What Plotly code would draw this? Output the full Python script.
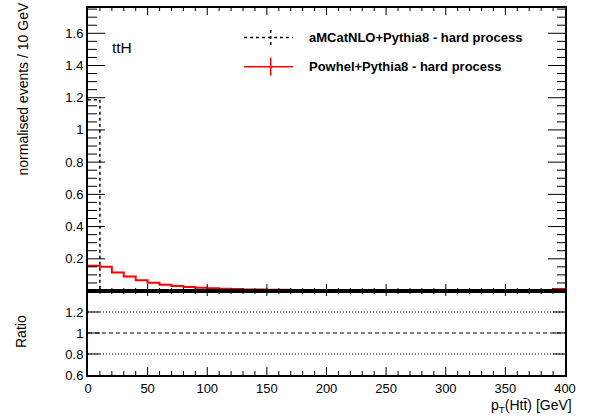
import plotly.graph_objects as go

# ---------------- data ----------------
bin_width = 10
x_edges = list(range(0, 410, bin_width))
powhel_vals = [0.157, 0.151, 0.115, 0.090, 0.066, 0.051, 0.039, 0.031, 0.025, 0.020,
               0.017, 0.014, 0.012, 0.010, 0.009, 0.008, 0.007, 0.006, 0.0055, 0.005,
               0.0045, 0.004, 0.0036, 0.0033, 0.003, 0.0027, 0.0025, 0.0023, 0.0021, 0.0019,
               0.0017, 0.0016, 0.0015, 0.0014, 0.0013, 0.0012, 0.0011, 0.001, 0.001, 0.012]
amc_vals = [1.188] + [0.0] * 39
main_yticks = [0.2, 0.4, 0.6, 0.8, 1.0, 1.2, 1.4, 1.6]
ratio_yticks = [0.6, 0.8, 1.0, 1.2]
x_ticks = [0, 50, 100, 150, 200, 250, 300, 350, 400]
ratio_lines = [1.2, 1.0, 0.8]
legend_labels = ["aMCatNLO+Pythia8 - hard process", "Powhel+Pythia8 - hard process"]

FONT = "Liberation Sans, Arial, Helvetica, sans-serif"

# ---------------- geometry ----------------
W, H = 589, 416
ML, MR, MT, MB = 88, 24, 8, 41
PW = W - ML - MR            # 477
PH = H - MT - MB            # 367
SPLIT_PX = 291              # pixel row of the pad boundary
split = (H - MB - SPLIT_PX) / PH
XR = [0, 400]
YR_MAIN = [0, 1.757]
YR_RATIO = [0.6, 1.4]

px_x = PW / (XR[1] - XR[0])
px_y_main = (SPLIT_PX - MT) / (YR_MAIN[1] - YR_MAIN[0])
px_y_ratio = (H - MB - SPLIT_PX) / (YR_RATIO[1] - YR_RATIO[0])

fig = go.Figure()

# aMCatNLO histogram (dashed black)
fig.add_trace(go.Scatter(
    x=x_edges, y=amc_vals + [amc_vals[-1]], mode="lines", line_shape="hv",
    line=dict(color="black", width=1.5, dash="3px,3px"), showlegend=False, hoverinfo="skip"))
# Powhel histogram (red)
fig.add_trace(go.Scatter(
    x=x_edges, y=powhel_vals + [powhel_vals[-1]], mode="lines", line_shape="hv",
    line=dict(color="red", width=2), showlegend=False))

# ratio reference lines
for val, dash in zip(ratio_lines, ["1px,2px", "4px,3px", "1px,2px"]):
    fig.add_trace(go.Scatter(x=[XR[0], XR[1]], y=[val, val], mode="lines",
                             line=dict(color="black", width=1, dash=dash),
                             xaxis="x2", yaxis="y2", showlegend=False, hoverinfo="skip"))


# ---------------- ROOT-style tick marks (drawn through the axes' scales) ----------------
def frange(a, b, step):
    out, n = [], 0
    while a + n * step <= b + 1e-9:
        out.append(round(a + n * step, 6))
        n += 1
    return out


def tick_trace(xa, ya, xs, ys):
    return go.Scatter(x=xs, y=ys, mode="lines", line=dict(color="black", width=1),
                      xaxis=xa, yaxis=ya, showlegend=False, hoverinfo="skip", cliponaxis=False)


def y_ticks(vals, len_l, len_r, yr):
    xs, ys = [], []
    for v in vals:
        if v <= yr[0] + 1e-9 or v >= yr[1] - 1e-9:
            continue
        xs += [XR[0], XR[0] + len_l / px_x, None, XR[1], XR[1] - len_r / px_x, None]
        ys += [v, v, None, v, v, None]
    return xs, ys


def x_ticks_marks(vals, len_b, len_t, yr, pxy):
    xs, ys = [], []
    for v in vals:
        if v <= XR[0] + 1e-9 or v >= XR[1] - 1e-9:
            continue
        xs += [v, v, None, v, v, None]
        ys += [yr[0], yr[0] + len_b / pxy, None, yr[1], yr[1] - len_t / pxy, None]
    return xs, ys


main_minor_y = [v for v in frange(0.05, 1.75, 0.05) if all(abs(v - m) > 1e-6 for m in main_yticks)]
minor_x = [v for v in frange(10, 390, 10) if v % 50 != 0]

xs, ys = y_ticks(main_yticks, 17, 17, YR_MAIN)
fig.add_trace(tick_trace("x", "y", xs, ys))
xs, ys = y_ticks(main_minor_y, 9, 8, YR_MAIN)
fig.add_trace(tick_trace("x", "y", xs, ys))
xs, ys = x_ticks_marks(x_ticks, 7, 7, YR_MAIN, px_y_main)
fig.add_trace(tick_trace("x", "y", xs, ys))
xs, ys = x_ticks_marks(minor_x, 3, 3, YR_MAIN, px_y_main)
fig.add_trace(tick_trace("x", "y", xs, ys))

xs, ys = y_ticks(ratio_yticks, 12, 12, YR_RATIO)
fig.add_trace(tick_trace("x2", "y2", xs, ys))
xs, ys = x_ticks_marks(x_ticks, 8, 5, YR_RATIO, px_y_ratio)
fig.add_trace(tick_trace("x2", "y2", xs, ys))
xs, ys = x_ticks_marks(minor_x, 4, 3, YR_RATIO, px_y_ratio)
fig.add_trace(tick_trace("x2", "y2", xs, ys))

# ---------------- axes ----------------
base = dict(showline=True, linecolor="black", linewidth=2, mirror=True, ticks="",
            showgrid=False, zeroline=False, automargin=False, fixedrange=True,
            tickfont=dict(family=FONT, size=13, color="black"))

fig.update_layout(
    width=W, height=H,
    margin=dict(l=ML, r=MR, t=MT, b=MB, pad=0),
    paper_bgcolor="white", plot_bgcolor="white",
    font=dict(family=FONT, color="black"),
    hovermode=False,
    xaxis=dict(domain=[0, 1], range=XR, anchor="y", showticklabels=False,
               tickmode="array", tickvals=x_ticks, **base),
    yaxis=dict(domain=[split, 1], range=YR_MAIN, anchor="x",
               tickmode="array", tickvals=main_yticks, **base),
    xaxis2=dict(domain=[0, 1], range=XR, anchor="y2",
                tickmode="array", tickvals=x_ticks, **base),
    yaxis2=dict(domain=[0, split], range=YR_RATIO, anchor="x2",
                tickmode="array", tickvals=ratio_yticks, **base),
)

# ---------------- texts ----------------
fig.add_annotation(text="normalised events / 10 GeV", textangle=-90, xref="paper", yref="paper",
                   x=(22 - ML) / PW, y=(H - MB - 1) / PH, xanchor="center", yanchor="top",
                   showarrow=False, font=dict(family=FONT, size=14, color="black"))
fig.add_annotation(text="Ratio", textangle=-90, xref="paper", yref="paper",
                   x=(21 - ML) / PW, y=(H - MB - 332) / PH, xanchor="center", yanchor="middle",
                   showarrow=False, font=dict(family=FONT, size=14, color="black"))
fig.add_annotation(text="p<sub>T</sub>(Htt\u0304) [GeV]", xref="paper", yref="paper",
                   x=(574 - ML) / PW, y=(H - MB - 406) / PH, xanchor="right", yanchor="middle",
                   showarrow=False, font=dict(family=FONT, size=14, color="black"))
fig.add_annotation(text="ttH", xref="paper", yref="paper",
                   x=(110 - ML) / PW, y=(H - MB - 47) / PH, xanchor="left", yanchor="middle",
                   showarrow=False, font=dict(family=FONT, size=15.5, color="black"))


# ---------------- legend (hand-built, ROOT style) ----------------
def px2x(px):
    return (px - ML) / px_x


def py2y(py):
    return (SPLIT_PX - py) / px_y_main


leg_rows = [(37.5, "black", "3px,3px", 1.5, 7.5), (66.7, "red", "solid", 1.5, 9)]
for (py, col, dash, w, half), label in zip(leg_rows, legend_labels):
    fig.add_shape(type="line", xref="x", yref="y", x0=px2x(244), x1=px2x(293),
                  y0=py2y(py), y1=py2y(py), line=dict(color=col, width=w, dash=dash))
    fig.add_shape(type="line", xref="x", yref="y", x0=px2x(270.7), x1=px2x(270.7),
                  y0=py2y(py - half), y1=py2y(py + half), line=dict(color=col, width=w, dash=dash))
    fig.add_annotation(text="<b>" + label + "</b>", xref="x", yref="y", x=px2x(307), y=py2y(py),
                       xanchor="left", yanchor="middle", showarrow=False,
                       font=dict(family=FONT, size=13, color="black"))

fig.write_html("out.html")
